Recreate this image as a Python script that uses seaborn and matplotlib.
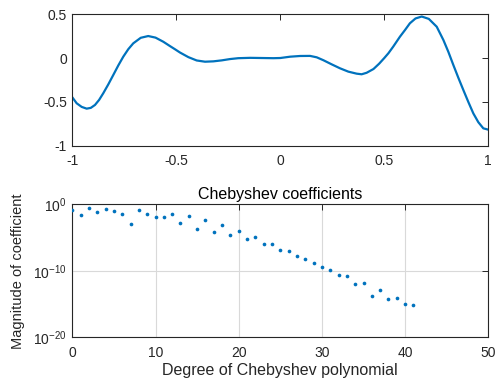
import numpy as np
import pandas as pd
import matplotlib
matplotlib.use("Agg")
import matplotlib.pyplot as plt
import seaborn as sns
from matplotlib.ticker import FixedLocator, NullLocator, FuncFormatter

# ---- data ----
curve_x = [-1.0, -0.979, -0.955, -0.931, -0.911, -0.891, -0.871, -0.851, -0.827, -0.803,
           -0.779, -0.755, -0.731, -0.707, -0.671, -0.635, -0.600, -0.5625, -0.530, -0.506,
           -0.482, -0.442, -0.402, -0.362, -0.322, -0.282, -0.242, -0.202, -0.145, -0.089,
           -0.033, 0.0, 0.047, 0.095, 0.143, 0.175, 0.207, 0.247, 0.287, 0.327,
           0.367, 0.391, 0.415, 0.448, 0.475, 0.500, 0.520, 0.543, 0.575, 0.600,
           0.623, 0.650, 0.680, 0.714, 0.752, 0.784, 0.808, 0.832, 0.856, 0.880,
           0.904, 0.928, 0.952, 0.976, 1.0]
curve_y = [-0.447, -0.515, -0.556, -0.576, -0.567, -0.534, -0.476, -0.400, -0.300, -0.193,
           -0.085, 0.015, 0.100, 0.167, 0.230, 0.250, 0.232, 0.185, 0.135, 0.099,
           0.062, 0.010, -0.028, -0.042, -0.038, -0.027, -0.012, -0.002, 0.002, 0.000,
           -0.002, 0.000, 0.015, 0.023, 0.024, 0.008, -0.025, -0.072, -0.117, -0.155,
           -0.178, -0.185, -0.168, -0.125, -0.065, 0.000, 0.055, 0.130, 0.242, 0.320,
           0.395, 0.450, 0.472, 0.445, 0.356, 0.205, 0.070, -0.080, -0.225, -0.364,
           -0.500, -0.630, -0.730, -0.800, -0.815]

degree = list(range(42))
log10_coef = [-0.8, -1.6, -0.55, -1.2, -0.65, -1.05, -1.45, -2.9, -0.8, -1.45,
              -1.9, -1.95, -1.45, -2.8, -1.75, -3.7, -2.35, -4.15, -3.1, -4.65,
              -4.0, -5.25, -4.95, -6.0, -6.0, -6.9, -7.05, -7.8, -8.2, -8.75,
              -9.35, -9.8, -10.6, -10.8, -11.9, -11.85, -13.8, -12.85, -14.15, -14.0,
              -14.9, -15.15]

top_xticks = [-1, -0.5, 0, 0.5, 1]
top_xlabels = ["-1", "-0.5", "0", "0.5", "1"]
top_yticks = [-1, -0.5, 0, 0.5]
top_ylabels = ["-1", "-0.5", "0", "0.5"]
bot_xticks = [0, 10, 20, 30, 40, 50]
bot_yticks = [1e-20, 1e-10, 1e0]

title_bottom = "Chebyshev coefficients"
xlabel_bottom = "Degree of Chebyshev polynomial"
ylabel_bottom = "Magnitude of coefficient"

# ---- style ----
sns.set_style("white")
plt.rcParams["font.family"] = ["Liberation Sans", "DejaVu Sans"]
plt.rcParams["mathtext.fontset"] = "custom"
plt.rcParams["mathtext.rm"] = "Liberation Sans"
plt.rcParams["mathtext.it"] = "Liberation Sans"
plt.rcParams["mathtext.default"] = "regular"

line_color = "#0072BD"
axis_color = "#262626"

fig = plt.figure(figsize=(4.97, 3.80), dpi=100)
ax1 = fig.add_axes([0.1455, 0.616, 0.837, 0.347])
ax2 = fig.add_axes([0.1455, 0.112, 0.837, 0.350])

df_curve = pd.DataFrame({"x": curve_x, "y": curve_y})
sns.lineplot(data=df_curve, x="x", y="y", ax=ax1, color=line_color, lw=1.6,
             estimator=None, sort=False)
ax1.set_xlim(-1, 1)
ax1.set_ylim(-1, 0.5)
ax1.set_xticks(top_xticks)
ax1.set_xticklabels(top_xlabels)
ax1.set_yticks(top_yticks)
ax1.set_yticklabels(top_ylabels)
ax1.set_xlabel("")
ax1.set_ylabel("")

df_coef = pd.DataFrame({"n": degree, "c": [10.0 ** v for v in log10_coef]})
sns.scatterplot(data=df_coef, x="n", y="c", ax=ax2, color=line_color, s=7,
                linewidth=0, marker="o", zorder=3)
ax2.set_yscale("log")
ax2.set_xlim(0, 50)
ax2.set_ylim(1e-20, 1e0)
ax2.xaxis.set_major_locator(FixedLocator(bot_xticks))
ax2.yaxis.set_major_locator(FixedLocator(bot_yticks))
ax2.yaxis.set_minor_locator(NullLocator())
ax2.yaxis.set_major_formatter(FuncFormatter(lambda v, p: r"$10^{%d}$" % int(round(np.log10(v)))))
ax2.grid(True, color="#d9d9d9", lw=0.8)
ax2.set_axisbelow(True)
ax2.set_title(title_bottom, fontsize=11.5, color="black", pad=4)
ax2.set_xlabel(xlabel_bottom, fontsize=11.5, labelpad=2)
ax2.set_ylabel(ylabel_bottom, fontsize=10.5, labelpad=6)

for ax in (ax1, ax2):
    for sp in ax.spines.values():
        sp.set_visible(True)
        sp.set_color(axis_color)
        sp.set_linewidth(0.8)
    ax.tick_params(direction="in", length=4, width=0.7, color=axis_color,
                   top=True, right=True, labelsize=10, labelcolor="#262626")
    ax.tick_params(axis="x", pad=6)
    ax.tick_params(axis="y", pad=4)
    ax.tick_params(which="minor", length=0)

fig.savefig("out.png", dpi=100)
